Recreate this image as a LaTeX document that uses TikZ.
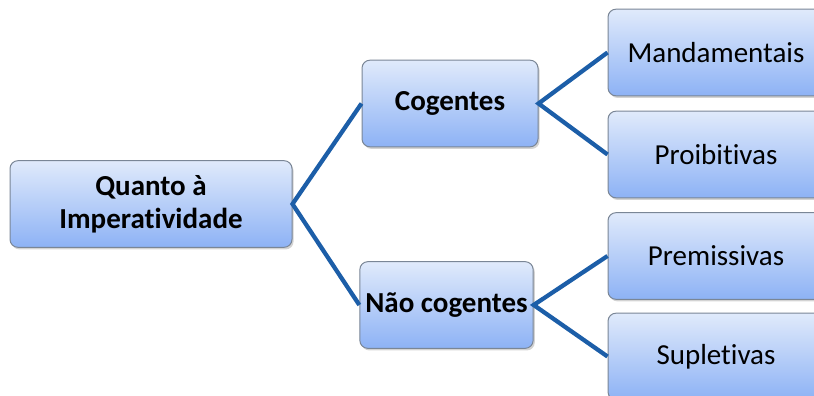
\documentclass[tikz,border=0pt]{standalone}
\usepackage{fontspec}
\setmainfont{Carlito}[Ligatures=NoCommon]
\usetikzlibrary{shadows,positioning}

\definecolor{boxtop}{HTML}{E0EAFB}
\definecolor{boxbot}{HTML}{8DB2F5}
\definecolor{boxline}{HTML}{7A8696}
\definecolor{linkblue}{HTML}{1C5EA8}

\begin{document}
\begin{tikzpicture}[x=0.75pt,y=-0.75pt,
    box/.style={draw=boxline, line width=0.75pt, rounded corners=6pt,
        top color=boxtop, bottom color=boxbot, inner sep=0pt, align=center,
        minimum height=65pt, font=\fontsize{21.75}{24.75}\selectfont,
        drop shadow={shadow xshift=1.2pt, shadow yshift=-1.6pt, opacity=0.35}},
    bold/.style={font=\fontsize{21.75}{24.75}\selectfont\bfseries},
    leaf/.style={box, minimum width=162pt},
    link/.style={linkblue, line width=3.2pt}]
			\useasboundingbox (0,0) rectangle (814,396);
			\clip (0,0) rectangle (814,396);
			\node[box, bold, minimum width=211.5pt] (Q) at (151,204) {Quanto à\\Imperatividade};
			\node[box, bold, minimum width=132pt] (C) at (450,103.5) {Cogentes};
			\node[box, bold, minimum width=130pt] (N) at (446.5,305) {Não cogentes};
			\node[leaf] (M) at (716,52.5) {Mandamentais};
			\node[leaf] (P) at (716,154.5) {Proibitivas};
			\node[leaf] (Pr) at (716,256) {Premissivas};
			\node[leaf] (S) at (716,356.5) {Supletivas};
			\draw[link] (C.west) -- (Q.east) -- (N.west);
			\draw[link] (M.west) -- (C.east) -- (P.west);
			\draw[link] (Pr.west) -- (N.east) -- (S.west);
		\end{tikzpicture}
\end{document}
